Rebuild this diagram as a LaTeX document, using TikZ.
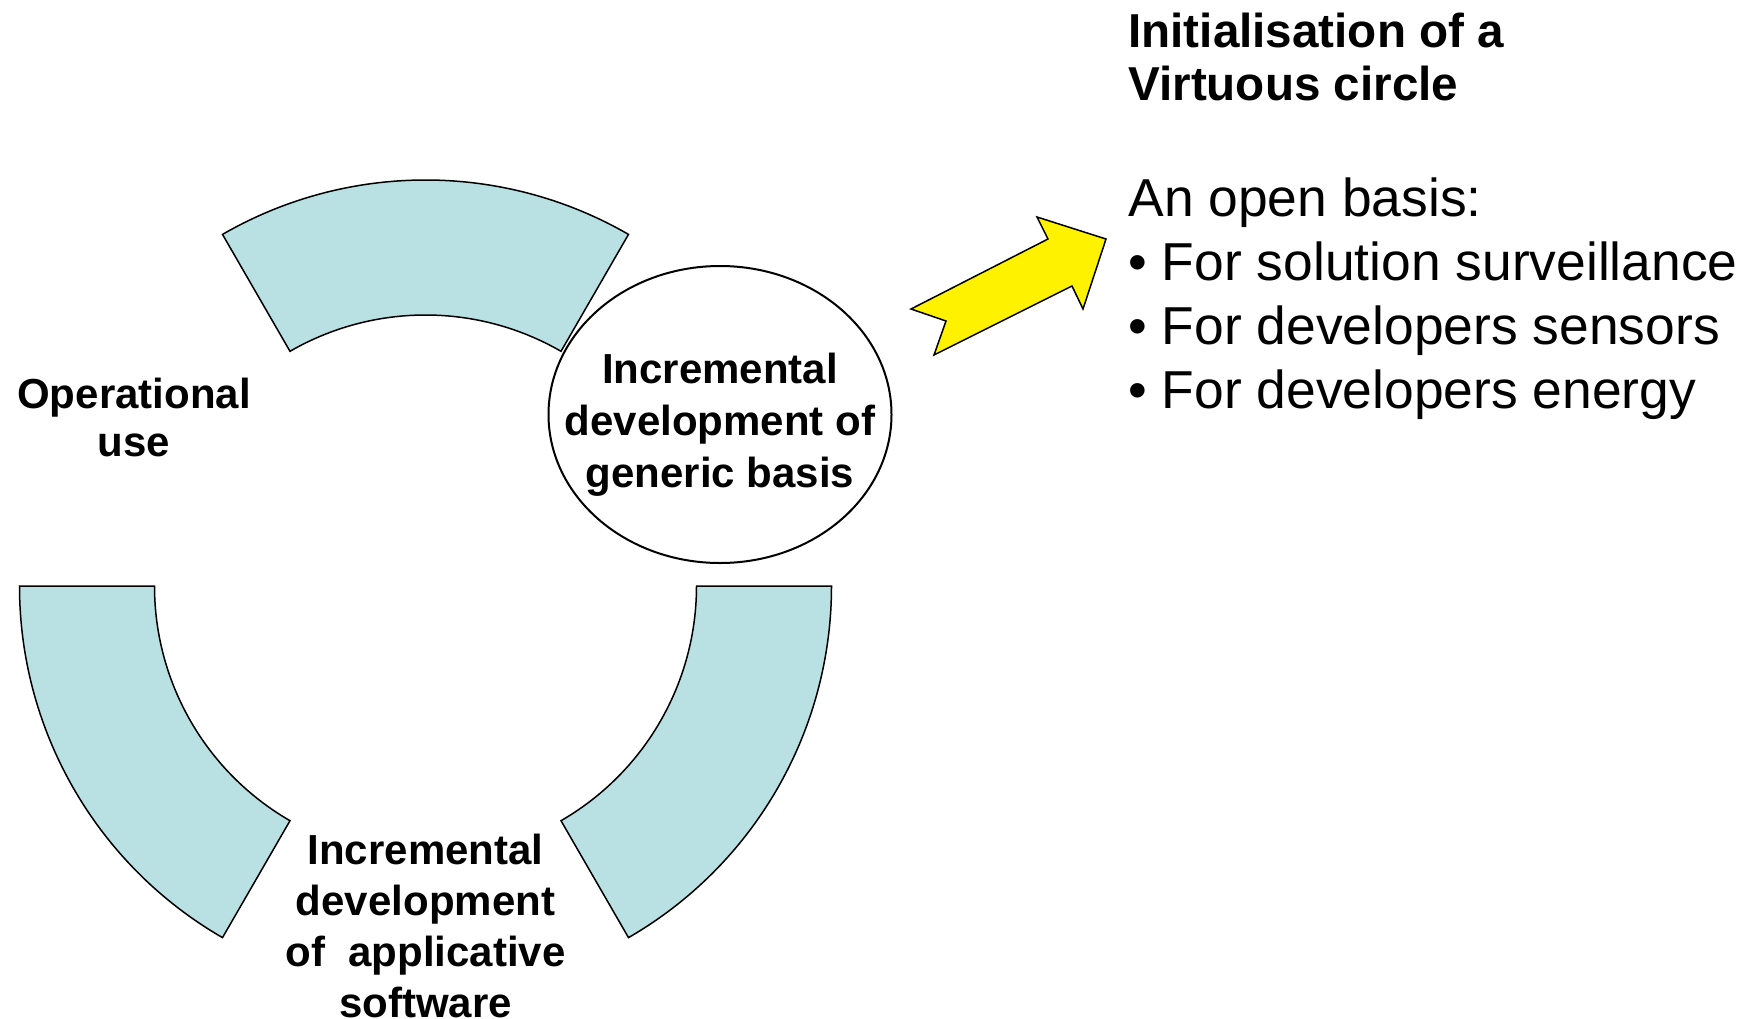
\documentclass[tikz,border=0pt]{standalone}
\usepackage{fontspec}
\setmainfont{Liberation Sans}
\usetikzlibrary{shapes.geometric}
\definecolor{segfill}{HTML}{B9E0E3}
\begin{document}
\begin{tikzpicture}[x=0.5pt,y=0.5pt,
  seg/.style={draw=black, line width=0.75pt, fill=segfill, line join=miter},
  lbl/.style={font=\bfseries\fontsize{21}{24}\selectfont, align=center, inner sep=0pt},
  arrowshape/.style={draw=black, fill=yellow, line width=0.75pt, line join=miter}]
\useasboundingbox (0,0) rectangle (1751,-1018);
\coordinate (C) at (425.5,-586);
% ring segments
\draw[seg] ([shift={(C)}]60:406) arc[start angle=60,end angle=120,radius=406]
  -- ([shift={(C)}]120:271) arc[start angle=120,end angle=60,radius=271] -- cycle;
\draw[seg] ([shift={(C)}]180:406) arc[start angle=180,end angle=240,radius=406]
  -- ([shift={(C)}]240:271) arc[start angle=240,end angle=180,radius=271] -- cycle;
\draw[seg] ([shift={(C)}]300:406) arc[start angle=300,end angle=360,radius=406]
  -- ([shift={(C)}]360:271) arc[start angle=360,end angle=300,radius=271] -- cycle;
% ellipse
\node[draw=black, ellipse, fill=white, line width=1pt, minimum width=171.5pt,
  minimum height=148.5pt, inner sep=0pt] (gen) at (720,-414.5) {};
\node[lbl, font=\bfseries\fontsize{21}{26}\selectfont] (gentxt) at (720,-424.5)
  {Incremental\\development of\\generic basis};
\node[lbl] (op) at (134,-417) {Operational\\use};
\node[lbl, font=\bfseries\fontsize{21}{25.5}\selectfont] (app) at (425.5,-925.5)
  {Incremental\\development\\of~~applicative\\software};
% arrow
\draw[arrowshape] (1106,-239) -- (1037,-217) -- (1048,-239) -- (911,-309) -- (946,-321)
  -- (934,-355) -- (1072,-286) -- (1083,-309) -- cycle;
% right text
\node[anchor=north west, inner sep=0pt, align=left,
  font=\bfseries\fontsize{23.8}{26.5}\selectfont] (title) at (1128,-13)
  {Initialisation of a\\Virtuous circle};
\node[anchor=north west, inner sep=0pt, align=left,
  font=\fontsize{26.7}{32}\selectfont] (body) at (1128,-177)
  {An open basis:\\• For solution surveillance\\• For developers sensors\\• For developers energy};
\end{tikzpicture}
\end{document}
